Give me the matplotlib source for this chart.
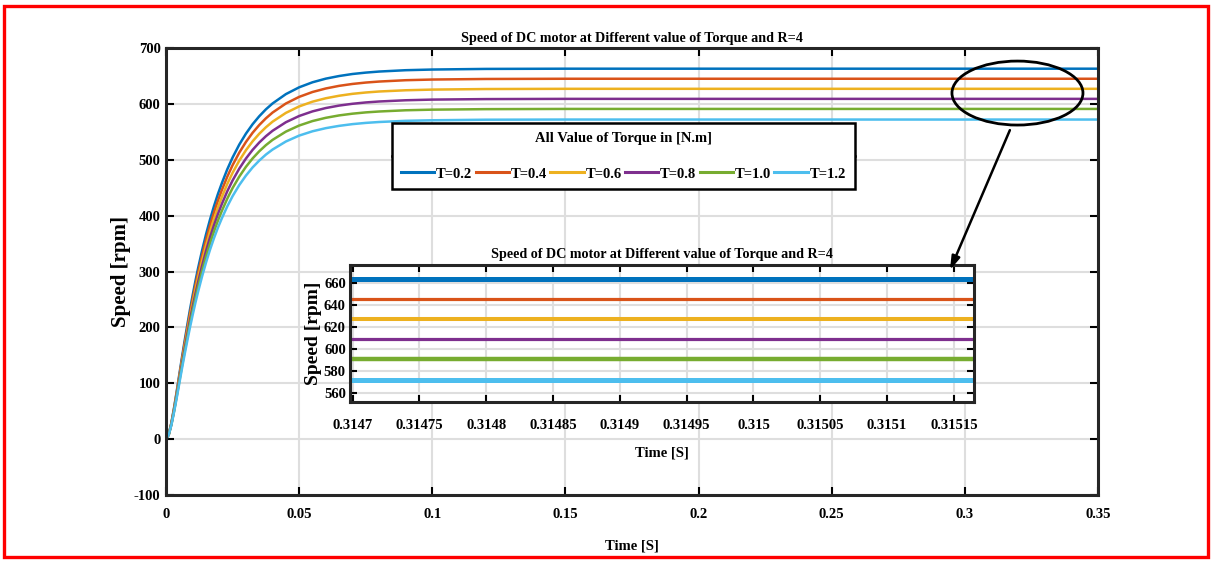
import numpy as np
import matplotlib.pyplot as plt
from matplotlib.patches import Ellipse, Rectangle
from matplotlib.lines import Line2D

plt.rcParams['font.family'] = ['Liberation Serif', 'DejaVu Serif']
plt.rcParams['font.weight'] = 'bold'
plt.rcParams['axes.titleweight'] = 'bold'
plt.rcParams['axes.labelweight'] = 'bold'
plt.rcParams['axes.unicode_minus'] = False

# simulated speed response [rpm] for each load torque, R = 4
time = [0, 0.001, 0.002, 0.003, 0.004, 0.005, 0.006, 0.007, 0.008, 0.009,
        0.010, 0.011, 0.012, 0.0135, 0.015, 0.0165, 0.018, 0.0195, 0.021, 0.023,
        0.025, 0.0275, 0.03, 0.0325, 0.035, 0.0375, 0.04, 0.045, 0.05, 0.055,
        0.06, 0.065, 0.07, 0.075, 0.08, 0.09, 0.1, 0.12, 0.15, 0.2,
        0.25, 0.3, 0.35]
speed_t02 = [0, 8.7, 29.2, 56.0, 85.5, 116.4, 147.2, 176.7, 204.9, 232.3,
             257.9, 282.4, 305.3, 337.1, 366.3, 392.8, 417.0, 439.0, 458.8, 483.0,
             504.2, 527.2, 546.8, 563.6, 577.9, 590.3, 600.8, 617.5, 629.7, 638.7,
             645.2, 649.9, 653.5, 656.0, 657.9, 660.3, 661.5, 662.6, 663, 663,
             663, 663, 663]
speed_t04 = [0, 8.4, 28.4, 54.4, 83.2, 113.3, 143.2, 171.9, 199.3, 226.0,
             250.9, 274.7, 297.0, 327.9, 356.4, 382.1, 405.7, 427.1, 446.3, 469.9,
             490.5, 512.8, 531.9, 548.3, 562.2, 574.2, 584.5, 600.7, 612.6, 621.3,
             627.6, 632.3, 635.7, 638.2, 640.0, 642.4, 643.6, 644.6, 645, 645,
             645, 645, 645]
speed_t06 = [0, 8.2, 27.6, 52.9, 80.9, 110.1, 139.2, 167.1, 193.7, 219.7,
             243.9, 267.0, 288.7, 318.8, 346.4, 371.4, 394.4, 415.2, 433.9, 456.8,
             476.8, 498.5, 517.1, 533.0, 546.6, 558.2, 568.2, 583.9, 595.5, 604.0,
             610.1, 614.6, 618.0, 620.4, 622.2, 624.4, 625.6, 626.6, 627, 627,
             627, 627, 627]
speed_t08 = [0, 8.0, 26.8, 51.4, 78.6, 106.9, 135.2, 162.3, 188.2, 213.4,
             236.9, 259.4, 280.4, 309.6, 336.5, 360.8, 383.1, 403.3, 421.4, 443.7,
             463.1, 484.2, 502.2, 517.7, 530.9, 542.2, 551.9, 567.2, 578.4, 586.6,
             592.6, 597.0, 600.2, 602.6, 604.3, 606.5, 607.7, 608.6, 609, 609,
             609, 609, 609]
speed_t10 = [0, 7.7, 26.0, 49.9, 76.2, 103.8, 131.2, 157.5, 182.6, 207.1,
             229.9, 251.7, 272.2, 300.5, 326.5, 350.1, 371.7, 391.4, 409.0, 430.5,
             449.5, 469.9, 487.4, 502.4, 515.2, 526.2, 535.6, 550.4, 561.3, 569.3,
             575.1, 579.4, 582.5, 584.8, 586.4, 588.6, 589.7, 590.6, 591, 591,
             591, 591, 591]
speed_t12 = [0, 7.5, 25.2, 48.3, 73.8, 100.4, 127.0, 152.4, 176.7, 200.4,
             222.5, 243.6, 263.4, 290.8, 316.0, 338.9, 359.8, 378.8, 395.8, 416.7,
             435.0, 454.8, 471.7, 486.3, 498.6, 509.3, 518.3, 532.7, 543.3, 551.0,
             556.6, 560.7, 563.8, 566.0, 567.6, 569.7, 570.7, 571.7, 572, 572,
             572, 572, 572]

labels = ['T=0.2', 'T=0.4', 'T=0.6', 'T=0.8', 'T=1.0', 'T=1.2']
colors = ['#0072BD', '#D95319', '#EDB120', '#7E2F8E', '#77AC30', '#4DBEEE']
speeds = [speed_t02, speed_t04, speed_t06, speed_t08, speed_t10, speed_t12]
zoom_widths = [3.6, 2.3, 2.9, 2.3, 3.2, 3.6]

main_xticks = [0, 0.05, 0.1, 0.15, 0.2, 0.25, 0.3, 0.35]
main_xticklabels = ['0', '0.05', '0.1', '0.15', '0.2', '0.25', '0.3', '0.35']
zoom_xticks = [0.3147, 0.31475, 0.3148, 0.31485, 0.3149, 0.31495,
               0.315, 0.31505, 0.3151, 0.31515]
zoom_xticklabels = ['0.3147', '0.31475', '0.3148', '0.31485', '0.3149',
                    '0.31495', '0.315', '0.31505', '0.3151', '0.31515']
zoom_yticks = [560, 580, 600, 620, 640, 660]

title = 'Speed of DC motor at Different value of Torque and R=4'
spine_col = '#262626'
grid_col = '#dedede'
fs = 10.5


def style_axes(a, xpad, ypad, ticklen):
    for s in a.spines.values():
        s.set_linewidth(2.2)
        s.set_color(spine_col)
    a.tick_params(direction='in', top=True, right=True, length=ticklen,
                  width=1.5, labelsize=fs, colors='black')
    a.tick_params(axis='x', pad=xpad)
    a.tick_params(axis='y', pad=ypad)
    a.grid(True, color=grid_col, lw=1.5)
    a.set_axisbelow(True)


fig = plt.figure(figsize=(12.13, 5.61), dpi=100)

# main plot
ax = fig.add_axes([0.1369, 0.1176, 0.7683, 0.7968])
lines = []
for sp, c, lab in zip(speeds, colors, labels):
    ln, = ax.plot(time, sp, color=c, lw=1.8, label=lab)
    lines.append(ln)
ax.set_xlim(0, 0.35)
ax.set_ylim(-100, 700)
ax.set_xticks(main_xticks)
ax.set_xticklabels(main_xticklabels)
ax.set_yticks(np.arange(-100, 701, 100))
style_axes(ax, 9, 4, 6)
ax.set_title(title, fontsize=10.2, pad=4)
ax.set_xlabel('Time [S]', fontsize=fs, labelpad=14)
ax.set_ylabel('Speed [rpm]', fontsize=15, labelpad=2)

# highlight of the steady-state region
ax.add_patch(Ellipse((0.31975, 619.4), 0.0492, 114.5, fill=False,
                     ec='black', lw=2.0, zorder=5))

# zoomed view of the steady state
ins = fig.add_axes([0.2885, 0.2834, 0.5144, 0.2442])
ins.set_facecolor('white')
for sp, c, w in zip(speeds, colors, zoom_widths):
    ins.plot(time, sp, color=c, lw=w)
ins.set_xlim(0.314698, 0.315165)
ins.set_ylim(552, 676)
ins.set_xticks(zoom_xticks)
ins.set_xticklabels(zoom_xticklabels)
ins.set_yticks(zoom_yticks)
style_axes(ins, 12.5, 3, 5)
ins.set_title(title, fontsize=10.2, pad=5)
ins.set_xlabel('Time [S]', fontsize=fs, labelpad=10)
ins.set_ylabel('Speed [rpm]', fontsize=14, labelpad=1)

ins.annotate('', xy=(0.2944, 302.6), xycoords=ax.transData,
             xytext=(0.3169, 553), textcoords=ax.transData,
             arrowprops=dict(arrowstyle='-|>,head_length=0.8,head_width=0.25',
                             color='black', lw=1.8, shrinkA=0, shrinkB=0),
             annotation_clip=False)

# legend with a header row
leg = fig.legend(lines, labels, ncol=6, loc='upper left',
                 bbox_to_anchor=(0.3232, 0.7807), bbox_transform=fig.transFigure,
                 borderaxespad=0, title='All Value of Torque in [N.m]',
                 title_fontproperties={'weight': 'bold', 'size': fs},
                 prop={'weight': 'bold', 'size': fs},
                 handlelength=2.3, handletextpad=0.12, columnspacing=0.22,
                 borderpad=0.6, labelspacing=1.55, fancybox=False,
                 framealpha=1, edgecolor='black')
leg.get_frame().set_linewidth(1.8)
for h in leg.legend_handles:
    h.set_linewidth(2.2)

fig.canvas.draw()
W, H = fig.bbox.width, fig.bbox.height
lb = leg.get_window_extent()
tb = leg.get_title().get_window_extent()
y_sep = tb.y0 - 0.5 * 1.55 * fs * fig.dpi / 72
fig.add_artist(Line2D([lb.x0 / W, lb.x1 / W], [y_sep / H, y_sep / H],
                      transform=fig.transFigure, color='black', lw=1.8))

# page border
fig.add_artist(Rectangle((0.0033, 0.0071), 0.9926, 0.9822, transform=fig.transFigure,
                         fill=False, edgecolor='red', lw=2.4))

fig.savefig('out.png', dpi=100)
